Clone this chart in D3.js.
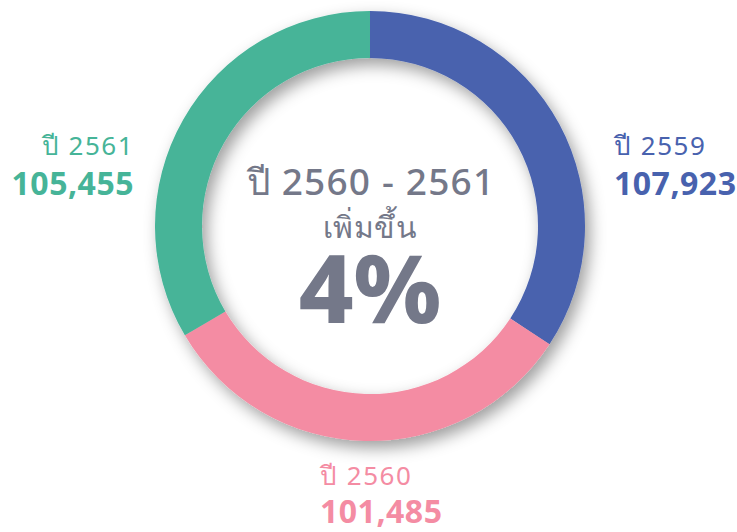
<!DOCTYPE html>
<html><head><meta charset="utf-8">
<script src="https://cdn.jsdelivr.net/npm/d3@7"></script>
<style>body{margin:0;background:#fff}svg{display:block}text{font-family:"Noto Sans","Open Sans",sans-serif}</style>
</head><body>
<svg id="c" width="737" height="532"></svg>
<script>
const years = ["ปี 2559", "ปี 2560", "ปี 2561"];
const values = [107923, 101485, 105455];
const valueLabels = ["107,923", "101,485", "105,455"];
const colors = ["#4862ae", "#f48ca3", "#46b498"];
const centerLines = ["ปี 2560 - 2561", "เพิ่มขึ้น", "4%"];

const svg = d3.select("#c");
const cx = 370, cy = 226, R = 215, r = 168;
const defs = svg.append("defs");
const f = defs.append("filter").attr("id","sh").attr("x","-20%").attr("y","-20%").attr("width","140%").attr("height","140%");
f.append("feDropShadow").attr("dx",5).attr("dy",7).attr("stdDeviation",8).attr("flood-color","#000").attr("flood-opacity",0.38);

const pie = d3.pie().sort(null).value(d=>d);
const arc = d3.arc().innerRadius(r).outerRadius(R);
const g = svg.append("g").attr("transform",`translate(${cx},${cy})`);
const gs = g.append("g").attr("filter","url(#sh)");
gs.selectAll("path").data(pie(values)).join("path").attr("d",arc).attr("fill",(d,i)=>colors[i]);

const tc = "#747889";
g.append("text").attr("text-anchor","middle").attr("x",1).attr("y",-31).attr("font-size",37).attr("font-weight",500).attr("letter-spacing",1.2).attr("fill",tc).text(centerLines[0]);
g.append("text").attr("text-anchor","middle").attr("y",12).attr("font-size",30).attr("font-weight",500).attr("letter-spacing",0.5).attr("fill",tc).text(centerLines[1]);
g.append("text").attr("text-anchor","middle").attr("y",97).attr("font-size",95).attr("font-weight",800).attr("letter-spacing",0).attr("fill",tc).text(centerLines[2]);

const labels = [
  {x:614, y1:155, y2:195, anchor:"start"},
  {x:320, y1:485, y2:523, anchor:"start"},
  {x:134, y1:155, y2:195, anchor:"end"}
];
labels.forEach((p,i)=>{
  svg.append("text").attr("x",p.x).attr("y",p.y1).attr("text-anchor",p.anchor).attr("font-size",26).attr("letter-spacing",1.5).attr("fill",colors[i]).text(years[i]);
  svg.append("text").attr("x",p.x).attr("y",p.y2).attr("text-anchor",p.anchor).attr("font-size",32).attr("font-weight",700).attr("letter-spacing",0.5).attr("fill",colors[i]).text(valueLabels[i]);
});
</script>
</body></html>
